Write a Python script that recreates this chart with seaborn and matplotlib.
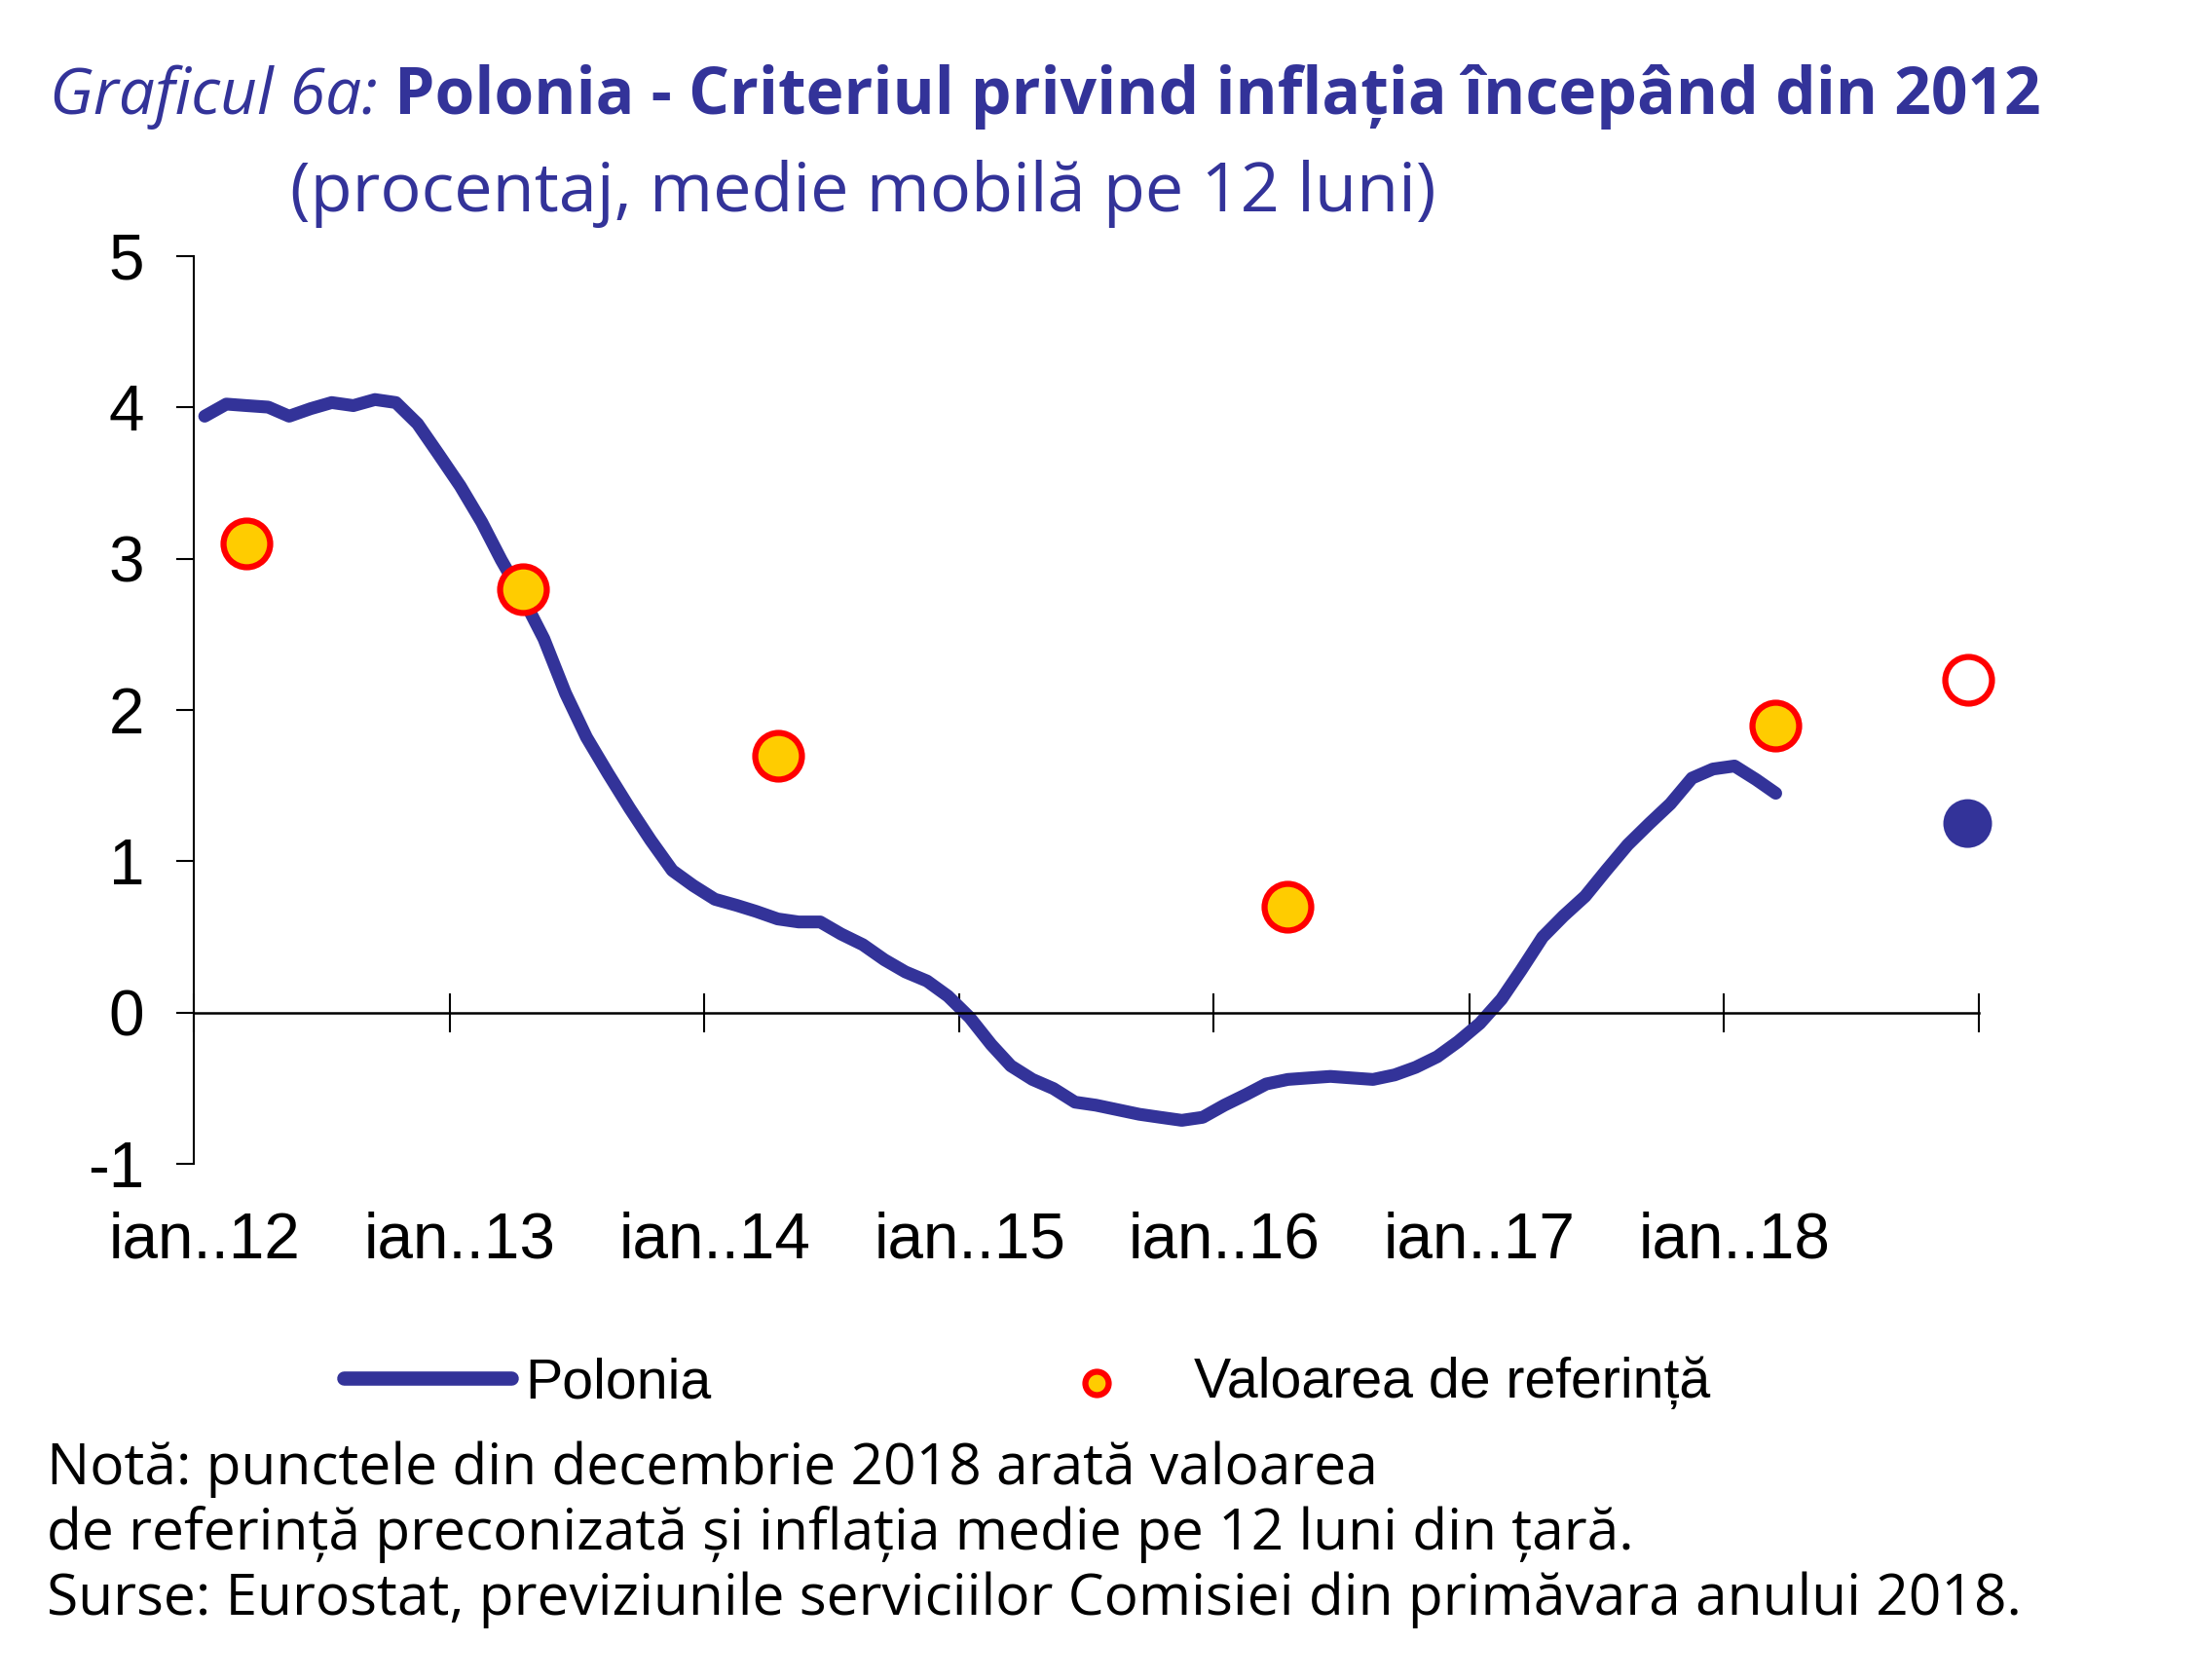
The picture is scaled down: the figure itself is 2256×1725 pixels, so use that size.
#%% Grafic 6a - Polonia, criteriul privind inflatia

import numpy as np
import pandas as pd
import matplotlib
matplotlib.use("Agg")
import matplotlib.pyplot as plt
import matplotlib.dates as mdates
import seaborn as sns

#%% Date

# inflatie medie mobila pe 12 luni, ian. 2012 - mar. 2018
inflatie_polonia = [3.94, 4.02, 4.01, 4.00, 3.94, 3.99, 4.03, 4.01, 4.05, 4.03,
                    3.89, 3.69, 3.48, 3.24, 2.99, 2.74, 2.47, 2.11, 1.82, 1.58,
                    1.35, 1.14, 0.94, 0.84, 0.75, 0.71, 0.67, 0.62, 0.60, 0.60,
                    0.52, 0.45, 0.35, 0.27, 0.21, 0.11, -0.03, -0.21, -0.35, -0.44,
                    -0.50, -0.59, -0.61, -0.64, -0.67, -0.69, -0.71, -0.69, -0.61, -0.54,
                    -0.47, -0.44, -0.43, -0.42, -0.43, -0.44, -0.41, -0.36, -0.29, -0.19,
                    -0.07, 0.09, 0.28, 0.50, 0.64, 0.77, 0.94, 1.11, 1.25, 1.38,
                    1.55, 1.61, 1.63, 1.54, 1.45]
luna_start = "2012-01"

ref_luni = ["2012-03", "2013-04", "2014-04", "2016-04", "2018-03"]
ref_valori = [3.1, 2.8, 1.7, 0.7, 1.9]

prognoza_luna = ["2018-12"]
prognoza_ref = [2.2]
prognoza_polonia = [1.25]

ani = ["2012", "2013", "2014", "2015", "2016", "2017", "2018", "2019"]
etichete_x = ["ian..12", "ian..13", "ian..14", "ian..15", "ian..16", "ian..17", "ian..18"]
valori_y = [-1, 0, 1, 2, 3, 4, 5]

titlu_1 = "Graficul 6a:"
titlu_2 = " Polonia - Criteriul privind inflația începând din 2012"
subtitlu = "(procentaj, medie mobilă pe 12 luni)"
note = ["Notă: punctele din decembrie 2018 arată valoarea",
        "de referință preconizată și inflația medie pe 12 luni din țară.",
        "Surse: Eurostat, previziunile serviciilor Comisiei din primăvara anului 2018."]

ALBASTRU = "#333399"
GALBEN = "#FFCC00"
ROSU = "#FF0000"

#%% Tabele

mijloc = pd.Timedelta(days=15)
df = pd.DataFrame({
    "data": pd.date_range(luna_start, periods=len(inflatie_polonia), freq="MS") + mijloc,
    "inflatie": inflatie_polonia,
})
df_ref = pd.DataFrame({"data": pd.to_datetime(ref_luni) + mijloc, "valoare": ref_valori})
df_prog = pd.DataFrame({"data": pd.to_datetime(prognoza_luna) + mijloc,
                        "ref": prognoza_ref, "polonia": prognoza_polonia})

#%% Grafic

sns.set_style("white")
plt.rcParams["font.family"] = ["Liberation Sans", "DejaVu Sans"]
plt.rcParams["axes.unicode_minus"] = False

fig = plt.figure(figsize=(15.04, 11.5), dpi=150)
ax = fig.add_axes([0.0884, 0.3070, 0.8123, 0.5408])

sns.lineplot(data=df, x="data", y="inflatie", ax=ax, color=ALBASTRU, linewidth=6.3,
             errorbar=None, solid_capstyle="round", solid_joinstyle="round", zorder=2)
linie = ax.lines[0]

sns.scatterplot(data=df_ref, x="data", y="valoare", ax=ax, s=23 ** 2, color=GALBEN,
                edgecolor=ROSU, linewidth=3.0, zorder=3)
puncte = ax.collections[-1]
sns.scatterplot(data=df_prog, x="data", y="ref", ax=ax, s=23 ** 2, color="white",
                edgecolor=ROSU, linewidth=3.0, zorder=3)
sns.scatterplot(data=df_prog, x="data", y="polonia", ax=ax, s=24 ** 2, color=ALBASTRU,
                edgecolor="none", linewidth=0, zorder=3)
for c in ax.collections:
    c.set_clip_on(False)

ax.set_xlim(pd.Timestamp(ani[0]), pd.Timestamp(ani[-1]))
ax.set_ylim(valori_y[0], valori_y[-1])
ax.set_xlabel("")
ax.set_ylabel("")

for s in ["top", "right"]:
    ax.spines[s].set_visible(False)
ax.spines["left"].set_linewidth(1.0)
ax.spines["left"].set_color("black")
ax.spines["bottom"].set_position(("data", 0))
ax.spines["bottom"].set_linewidth(1.2)
ax.spines["bottom"].set_color("black")

ax.set_yticks(valori_y)
ax.set_yticklabels([str(v) for v in valori_y])
ax.tick_params(axis="y", direction="out", length=8.6, width=1.0, color="black",
               labelsize=31.5, labelcolor="black", pad=16, left=True)

ax.set_xticks(pd.to_datetime(ani))
ax.tick_params(axis="x", direction="inout", length=19, width=1.0, color="black",
               labelbottom=False, bottom=True)

# etichetele lunii ianuarie stau sub grafic, nu pe axa de la zero
ax_jos = ax.secondary_xaxis("bottom")
ax_jos.set_xticks(mdates.date2num(pd.to_datetime(ani[:-1]) + mijloc))
ax_jos.set_xticklabels(etichete_x)
ax_jos.tick_params(length=0, labelsize=31.5, labelcolor="black", pad=23)
ax_jos.spines["bottom"].set_visible(False)

#%% Legenda

leg = fig.legend([linie, puncte], ["Polonia", "Valoarea de referință"], loc="center left",
                 bbox_to_anchor=(0.1565, 0.1768), ncol=2, frameon=False, fontsize=27.5,
                 handlelength=3.0, handletextpad=0.25, columnspacing=5.4, borderpad=0,
                 borderaxespad=0, markerscale=0.5, scatterpoints=1, labelcolor="black")
leg.get_lines()[0].set_linewidth(7)

#%% Titluri si note

FONT_TEXT = ["Open Sans", "DejaVu Sans"]
W, H = fig.get_size_inches() * fig.dpi
r = fig.canvas.get_renderer()

def latime(t):
    return t.get_window_extent(r).width

def y_fig(px):
    return 1 - px / H

t1 = fig.text(51 / W, y_fig(117), titlu_1, family=FONT_TEXT, style="italic",
              color=ALBASTRU, fontsize=30, va="baseline")
t2 = fig.text(0, y_fig(117), titlu_2, family=FONT_TEXT, weight="bold",
              color=ALBASTRU, fontsize=30, va="baseline")
k = 2043 / (latime(t1) + latime(t2))
t1.set_fontsize(30 * k)
t2.set_fontsize(30 * k)
t2.set_x((51 + latime(t1)) / W)

t3 = fig.text(298 / W, y_fig(217), subtitlu, family=FONT_TEXT, color=ALBASTRU,
              fontsize=28, va="baseline")
t3.set_fontsize(28 * 1178 / latime(t3))

baze = [1524, 1591, 1658]
texte = [fig.text(48 / W, y_fig(b), n, family=FONT_TEXT, color="black",
                  fontsize=26, va="baseline") for n, b in zip(note, baze)]
k = 2025 / latime(texte[2])
for t in texte:
    t.set_fontsize(26 * k)

fig.savefig("out.png", dpi=150)
